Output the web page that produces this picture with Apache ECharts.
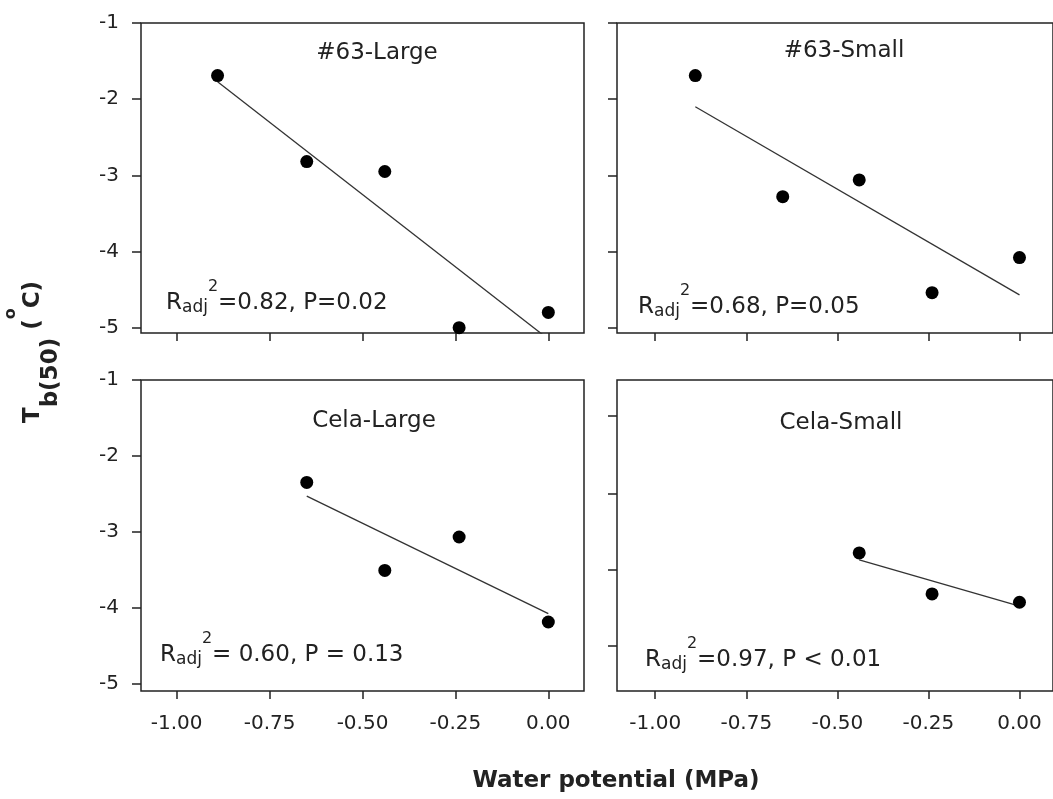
<!DOCTYPE html>
<html>
<head>
<meta charset="utf-8">
<script src="https://cdn.jsdelivr.net/npm/echarts@6/dist/echarts.min.js"></script>
<style>
html, body { margin: 0; padding: 0; background: #fff; }
#chart { width: 1053px; height: 799px; }
</style>
</head>
<body>
<div id="chart"></div>
<script>
// tick labels
var xTicks = [-1, -0.75, -0.5, -0.25, 0];
var yTicks = [-5, -4, -3, -2, -1];
var yTicksCelaSmall = [-4.5, -3.5, -2.5, -1.47];

var panelNames = ['#63-Large', '#63-Small', 'Cela-Large', 'Cela-Small'];
var statTexts = ['=0.82, P=0.02', '=0.68, P=0.05', '= 0.60, P = 0.13', '=0.97, P < 0.01'];

// #63-Large
var wp63Large = [-0.89, -0.65, -0.44, -0.24, 0];
var tb63Large = [-1.69, -2.82, -2.95, -5.0, -4.8];
var fitWp63Large = [-0.89, 0];
var fitTb63Large = [-1.77, -5.15];

// #63-Small
var wp63Small = [-0.89, -0.65, -0.44, -0.24, 0];
var tb63Small = [-1.69, -3.28, -3.06, -4.54, -4.08];
var fitWp63Small = [-0.89, 0];
var fitTb63Small = [-2.10, -4.57];

// Cela-Large
var wpCelaLarge = [-0.65, -0.44, -0.24, 0];
var tbCelaLarge = [-2.35, -3.51, -3.07, -4.19];
var fitWpCelaLarge = [-0.65, 0];
var fitTbCelaLarge = [-2.53, -4.08];

// Cela-Small
var wpCelaSmall = [-0.44, -0.24, 0];
var tbCelaSmall = [-3.28, -3.82, -3.93];
var fitWpCelaSmall = [-0.44, 0];
var fitTbCelaSmall = [-3.37, -3.98];

function pairs(xs, ys) {
    return xs.map(function (x, i) { return [x, ys[i]]; });
}

var FONT = 'DejaVu Sans';
var INK = '#222';

var panels = [
    { pts: pairs(wp63Large, tb63Large), fit: pairs(fitWp63Large, fitTb63Large),
      grid: { left: 141, top: 23, width: 443, height: 310 }, xr: [-1.096, 0.096], yr: [-5.07, -1],
      yt: yTicks, xLab: false, yLab: true, title: [377, 42], stat: [166, 279] },
    { pts: pairs(wp63Small, tb63Small), fit: pairs(fitWp63Small, fitTb63Small),
      grid: { left: 617, top: 23, width: 443, height: 310 }, xr: [-1.105, 0.092], yr: [-5.07, -1],
      yt: yTicks, xLab: false, yLab: false, title: [844, 40], stat: [638, 283] },
    { pts: pairs(wpCelaLarge, tbCelaLarge), fit: pairs(fitWpCelaLarge, fitTbCelaLarge),
      grid: { left: 141, top: 380, width: 443, height: 311 }, xr: [-1.096, 0.096], yr: [-5.1, -1],
      yt: yTicks, xLab: true, yLab: true, title: [374, 410], stat: [160, 631] },
    { pts: pairs(wpCelaSmall, tbCelaSmall), fit: pairs(fitWpCelaSmall, fitTbCelaSmall),
      grid: { left: 617, top: 380, width: 443, height: 311 }, xr: [-1.105, 0.092], yr: [-5.1, -1],
      yt: yTicksCelaSmall, xLab: true, yLab: false, title: [841, 412], stat: [645, 636] }
];

var grids = [], xAxes = [], yAxes = [], series = [], titles = [];

panels.forEach(function (p, i) {
    grids.push(Object.assign({ show: true, borderColor: INK, borderWidth: 1.5 }, p.grid));
    xAxes.push({
        type: 'value', gridIndex: i, min: p.xr[0], max: p.xr[1], position: 'bottom',
        axisLine: { show: false, onZero: false }, splitLine: { show: false },
        axisTick: { show: true, inside: false, length: 8, customValues: xTicks,
            lineStyle: { color: INK, width: 1.5 } },
        axisLabel: { show: p.xLab, customValues: xTicks, margin: 23,
            fontFamily: FONT, fontSize: 20, color: INK,
            formatter: function (v) { return Number(v).toFixed(2); } }
    });
    yAxes.push({
        type: 'value', gridIndex: i, min: p.yr[0], max: p.yr[1], position: 'left',
        axisLine: { show: false, onZero: false }, splitLine: { show: false },
        axisTick: { show: true, inside: false, length: 9, customValues: p.yt,
            lineStyle: { color: INK, width: 1.5 } },
        axisLabel: { show: p.yLab, customValues: p.yt, margin: 22,
            fontFamily: FONT, fontSize: 20, color: INK,
            formatter: function (v) { return String(Math.round(v)); } }
    });
    series.push({
        type: 'line', xAxisIndex: i, yAxisIndex: i, data: p.fit,
        symbol: 'none', clip: true, silent: true, z: 2,
        lineStyle: { color: '#333', width: 1.3 }
    });
    series.push({
        type: 'scatter', xAxisIndex: i, yAxisIndex: i, data: p.pts,
        symbol: 'circle', symbolSize: 13, z: 3,
        itemStyle: { color: '#000', opacity: 1 }
    });
    titles.push({
        text: panelNames[i], left: p.title[0], top: p.title[1], textAlign: 'center', padding: 0,
        textStyle: { fontFamily: FONT, fontSize: 23, fontWeight: 'normal', color: INK }
    });
    titles.push({
        text: '{r|R}{sub|adj}{sup|2}{t|' + statTexts[i] + '}',
        left: p.stat[0], top: p.stat[1], padding: 0,
        textStyle: {
            fontWeight: 'normal',
            rich: {
                r: { fontFamily: FONT, fontSize: 23, fontWeight: 'normal', color: INK, lineHeight: 48 },
                sub: { fontFamily: FONT, fontSize: 17, fontWeight: 'normal', color: INK,
                    verticalAlign: 'bottom', padding: [0, 0, 11, 0] },
                sup: { fontFamily: FONT, fontSize: 16, fontWeight: 'normal', color: INK, verticalAlign: 'top' },
                t: { fontFamily: FONT, fontSize: 23, fontWeight: 'normal', color: INK, lineHeight: 48 }
            }
        }
    });
});

titles.push({
    text: 'Water potential (MPa)', left: 616, top: 770, textAlign: 'center', padding: 0,
    textStyle: { fontFamily: FONT, fontSize: 23, fontWeight: 'bold', color: INK }
});

var chart = echarts.init(document.getElementById('chart'), null, { renderer: 'canvas' });
chart.setOption({
    animation: false,
    backgroundColor: '#fff',
    title: titles,
    grid: grids,
    xAxis: xAxes,
    yAxis: yAxes,
    series: series,
    graphic: [{
        type: 'text', x: 33, y: 352, rotation: Math.PI / 2, silent: true,
        style: {
            text: '{m|T}{sub|b(50)}{m| (}{sup|o}{m|C)}',
            align: 'center', verticalAlign: 'middle',
            rich: {
                m: { fontFamily: FONT, fontSize: 23, fontWeight: 'bold', fill: INK, lineHeight: 60 },
                sub: { fontFamily: FONT, fontSize: 23, fontWeight: 'bold', fill: INK, lineHeight: 20, verticalAlign: 'bottom' },
                sup: { fontFamily: FONT, fontSize: 16, fontWeight: 'bold', fill: INK, lineHeight: 34, verticalAlign: 'top' }
            }
        }
    }]
});
</script>
</body>
</html>
